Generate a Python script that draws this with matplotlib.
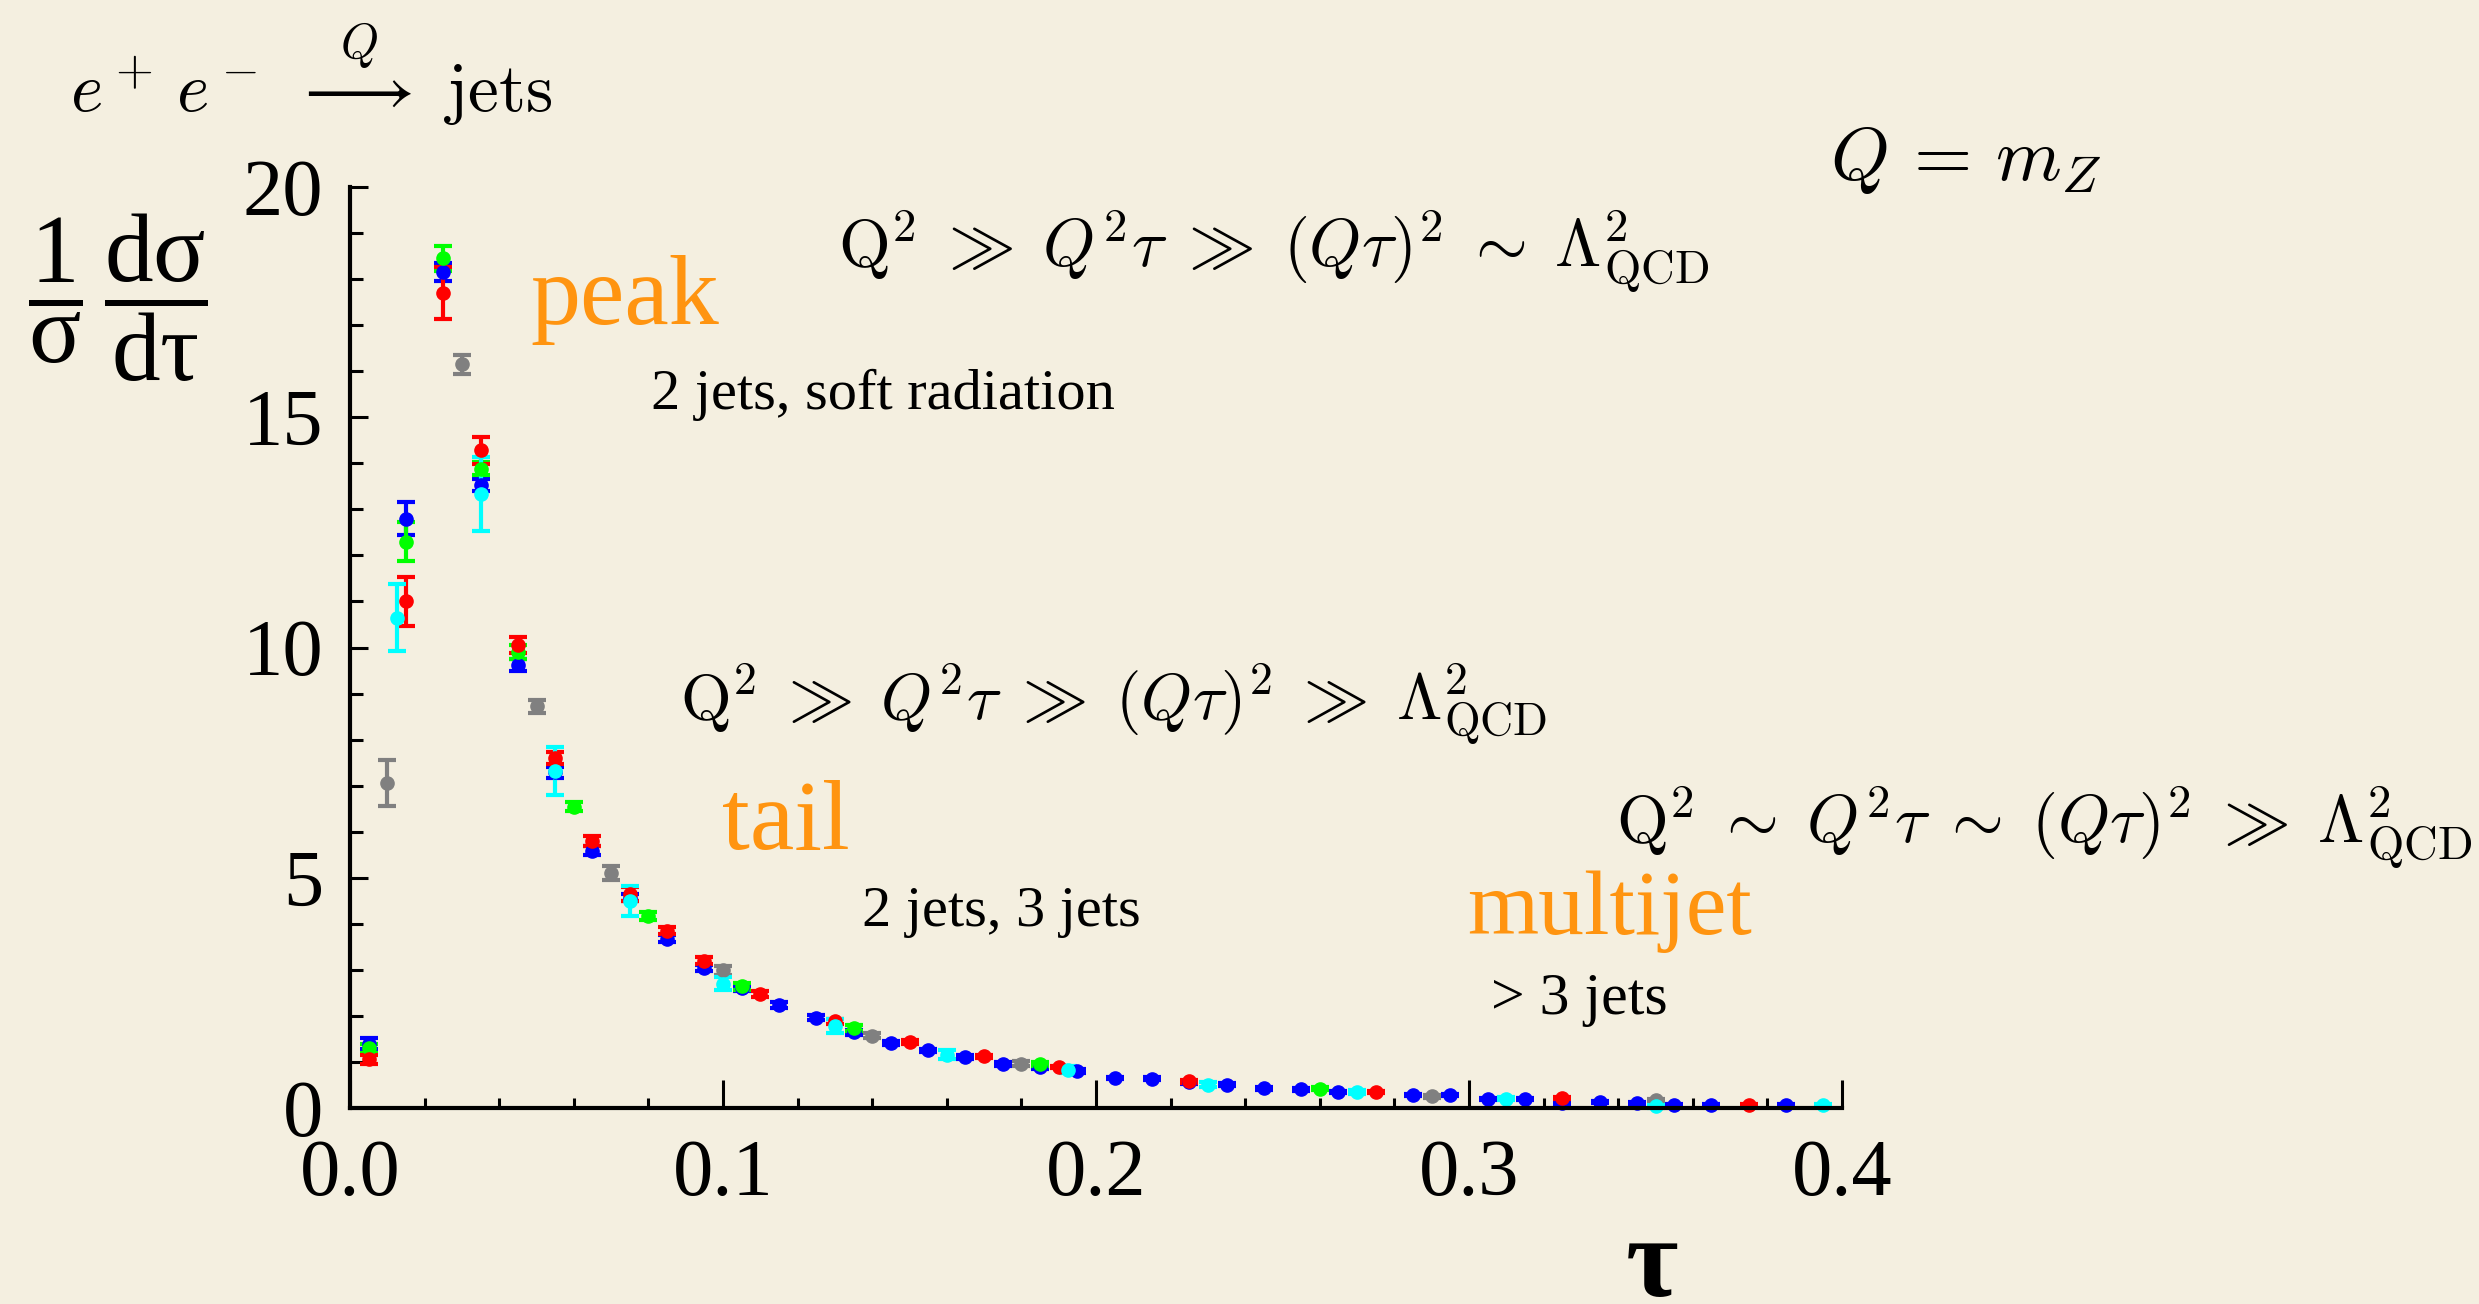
import matplotlib
matplotlib.use("Agg")
import matplotlib.pyplot as plt

plt.rcParams['font.family'] = ['Liberation Serif', 'DejaVu Serif']
plt.rcParams['mathtext.fontset'] = 'custom'
plt.rcParams['mathtext.rm'] = 'Liberation Serif'
plt.rcParams['mathtext.it'] = 'Liberation Serif:italic'
plt.rcParams['mathtext.bf'] = 'Liberation Serif:bold'

# thrust-like event shape tau, five data sets
grey_x = [0.01, 0.03, 0.05, 0.07, 0.10, 0.14, 0.18, 0.29, 0.35]
grey_y = [7.05, 16.15, 8.72, 5.11, 2.99, 1.57, 0.96, 0.25, 0.17]
grey_err = [0.5, 0.21, 0.14, 0.15, 0.1, 0.06, 0.05, 0.03, 0.03]

blue_x = [0.005, 0.015, 0.025, 0.035, 0.045, 0.055, 0.065, 0.075, 0.085, 0.095,
          0.105, 0.115, 0.125, 0.135, 0.145, 0.155, 0.165, 0.175, 0.185, 0.195,
          0.205, 0.215, 0.225, 0.235, 0.245, 0.255, 0.265, 0.285, 0.295, 0.305,
          0.315, 0.325, 0.335, 0.345, 0.355, 0.365, 0.385]
blue_y = [1.4, 12.8, 18.15, 13.53, 9.62, 7.29, 5.59, 4.57, 3.68, 3.04,
          2.6, 2.24, 1.96, 1.64, 1.41, 1.25, 1.11, 0.96, 0.89, 0.80,
          0.65, 0.64, 0.56, 0.51, 0.43, 0.41, 0.35, 0.28, 0.28, 0.2,
          0.2, 0.11, 0.13, 0.11, 0.06, 0.06, 0.06]
blue_err = [0.12, 0.35, 0.2, 0.13, 0.13, 0.12, 0.1, 0.08, 0.07, 0.06,
            0.06, 0.06, 0.05, 0.05, 0.05, 0.04, 0.04, 0.04, 0.04, 0.04,
            0.03, 0.03, 0.03, 0.03, 0.03, 0.03, 0.03, 0.02, 0.02, 0.02,
            0.02, 0.02, 0.02, 0.02, 0.02, 0.02, 0.02]

green_x = [0.005, 0.015, 0.025, 0.035, 0.045, 0.06, 0.08, 0.105, 0.135, 0.185, 0.26]
green_y = [1.3, 12.3, 18.45, 13.88, 9.9, 6.54, 4.17, 2.64, 1.74, 0.96, 0.42]
green_err = [0.1, 0.43, 0.27, 0.14, 0.15, 0.1, 0.08, 0.07, 0.06, 0.04, 0.03]

red_x = [0.005, 0.015, 0.025, 0.035, 0.045, 0.055, 0.065, 0.075, 0.085, 0.095,
         0.11, 0.13, 0.15, 0.17, 0.19, 0.225, 0.275, 0.325, 0.375]
red_y = [1.06, 11.0, 17.7, 14.28, 10.05, 7.59, 5.8, 4.65, 3.85, 3.2,
         2.48, 1.88, 1.43, 1.12, 0.89, 0.58, 0.35, 0.22, 0.06]
red_err = [0.1, 0.54, 0.56, 0.3, 0.17, 0.13, 0.1, 0.15, 0.08, 0.08,
           0.07, 0.05, 0.04, 0.04, 0.03, 0.03, 0.02, 0.02, 0.02]

cyan_x = [0.0125, 0.035, 0.055, 0.075, 0.10, 0.13, 0.16, 0.1925, 0.23, 0.27, 0.31, 0.35, 0.395]
cyan_y = [10.65, 13.33, 7.31, 4.5, 2.7, 1.78, 1.16, 0.83, 0.51, 0.35, 0.2, 0.04, 0.06]
cyan_err = [0.73, 0.81, 0.52, 0.32, 0.14, 0.15, 0.1, 0.08, 0.05, 0.04, 0.03, 0.03, 0.03]

datasets = [
    (grey_x, grey_y, grey_err, '#808080'),
    (blue_x, blue_y, blue_err, '#0000FF'),
    (green_x, green_y, green_err, '#00FF00'),
    (red_x, red_y, red_err, '#FF0000'),
    (cyan_x, cyan_y, cyan_err, '#00FFFF'),
]

bg = '#F4EFE0'
orange = '#FF9410'
W, H = 2479, 1304

fig = plt.figure(figsize=(W / 100, H / 100), dpi=100, facecolor=bg)
ax = fig.add_axes([350 / W, 1 - 1108 / H, (1842 - 350) / W, (1108 - 187) / H])
ax.set_facecolor('none')

for xs, ys, es, c in datasets:
    ax.errorbar(xs, ys, yerr=es, fmt='o', color=c, ms=9.5, elinewidth=3,
                capsize=6.5, capthick=3, clip_on=False)

ax.set_xlim(0, 0.4)
ax.set_ylim(0, 20)
ax.set_xticks([0.0, 0.1, 0.2, 0.3, 0.4])
ax.set_xticklabels(['0.0', '0.1', '0.2', '0.3', '0.4'])
ax.set_xticks([i * 0.02 for i in range(21)], minor=True)
ax.set_yticks([0, 5, 10, 15, 20])
ax.set_yticks(range(21), minor=True)

for s in ['top', 'right']:
    ax.spines[s].set_visible(False)
for s in ['left', 'bottom']:
    ax.spines[s].set_linewidth(3)

ax.tick_params(axis='both', which='both', direction='in', width=2.2, color='black')
ax.tick_params(axis='y', which='major', length=13, labelsize=58, pad=19)
ax.tick_params(axis='y', which='minor', length=9.5)
ax.tick_params(axis='x', which='major', length=20, labelsize=58, pad=22)
ax.tick_params(axis='x', which='minor', length=7)


def put(x, y, s, **kw):
    fig.text(x / W, 1 - y / H, s, **kw)


# axis titles
put(118, 298, r'$\dfrac{\mathrm{1}}{\mathrm{σ}}\,\dfrac{\mathrm{dσ}}{\mathrm{dτ}}$',
    fontsize=70, ha='center', va='center', math_fontfamily='custom')
put(1652, 1296, 'τ', fontsize=82, fontweight='bold', ha='center', va='baseline')

# process and scale
put(70, 75, r'$e^+\,e^-\ \overset{Q}{\longrightarrow}\ \mathrm{jets}$',
    fontsize=50, ha='left', va='center', math_fontfamily='cm')
put(1830, 160, r'$Q\,=\,m_Z$', fontsize=54, ha='left', va='center', math_fontfamily='cm')

# regions
put(838, 252, r'$\mathrm{Q}^2 \;\gg\; Q^2\tau \;\gg\; (Q\tau)^2 \;\sim\; \Lambda^2_{\mathrm{QCD}}$',
    fontsize=48, ha='left', va='center', math_fontfamily='cm')
put(530, 300, 'peak', fontsize=72, color=orange, ha='left', va='center')
put(651, 395, '2 jets, soft radiation', fontsize=42, ha='left', va='center')

put(680, 705, r'$\mathrm{Q}^2 \;\gg\; Q^2\tau \;\gg\; (Q\tau)^2 \;\gg\; \Lambda^2_{\mathrm{QCD}}$',
    fontsize=47, ha='left', va='center', math_fontfamily='cm')
put(722, 825, 'tail', fontsize=72, color=orange, ha='left', va='center')
put(862, 912, '2 jets, 3 jets', fontsize=42, ha='left', va='center')

put(1616, 828, r'$\mathrm{Q}^2 \;\sim\; Q^2\tau \;\sim\; (Q\tau)^2 \;\gg\; \Lambda^2_{\mathrm{QCD}}$',
    fontsize=48, ha='left', va='center', math_fontfamily='cm')
put(1467, 912, 'multijet', fontsize=66, color=orange, ha='left', va='center')
put(1491, 1000, '> 3 jets', fontsize=43, ha='left', va='center')

fig.savefig('out.png', dpi=100, facecolor=bg)
